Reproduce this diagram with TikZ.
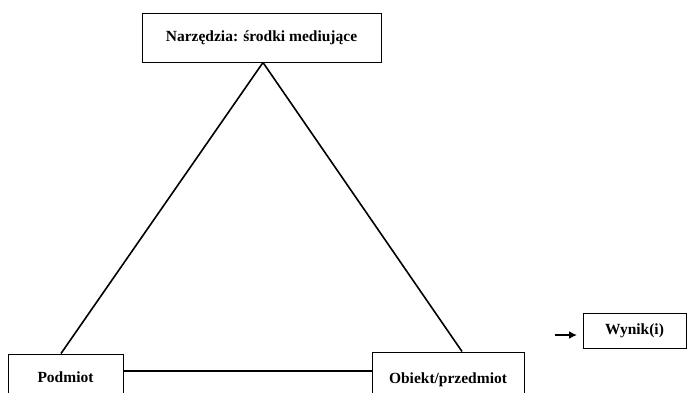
\documentclass[tikz,border=0pt]{standalone}
\usepackage{fontspec}
\setmainfont{Liberation Serif}
\usetikzlibrary{arrows.meta}
\begin{document}
\begin{tikzpicture}[x=1pt,y=-1pt,
  box/.style={draw,line width=1pt,rectangle,inner sep=0pt,font=\bfseries\fontsize{15.5}{18}\selectfont},
  link/.style={line width=1.6pt},
  flow/.style={line width=2.2pt,-{Latex[length=8pt,width=8pt]}}]
\useasboundingbox (0,0) rectangle (688,392);
\clip (0,0) rectangle (688,392);
\fill[white] (0,0) rectangle (688,392);
% the three corners of the activity triangle
\node[box,minimum width=239,minimum height=49] (tools) at (261.5,37.5) {Narzędzia: środki mediujące};
\node[box,minimum width=115,minimum height=46] (subject) at (65.5,377) {Podmiot};
\node[box,minimum width=152,minimum height=56] (object) at (448,380) {Obiekt/przedmiot};
\node[box,minimum width=103,minimum height=35] (outcome) at (634.5,330.5) {Wynik(i)};
% sides of the triangle
\draw[link] ([xshift=1.5]tools.south) -- ([xshift=-4.5]subject.north);
\draw[link] ([xshift=1.5]tools.south) -- ([xshift=14]object.north);
\draw[link] ([yshift=6]subject.east) -- ([yshift=9]object.west);
% arrow towards the outcome
\coordinate (from) at (555,335);
\draw[flow] (from) -- (577,335);
\end{tikzpicture}
\end{document}
